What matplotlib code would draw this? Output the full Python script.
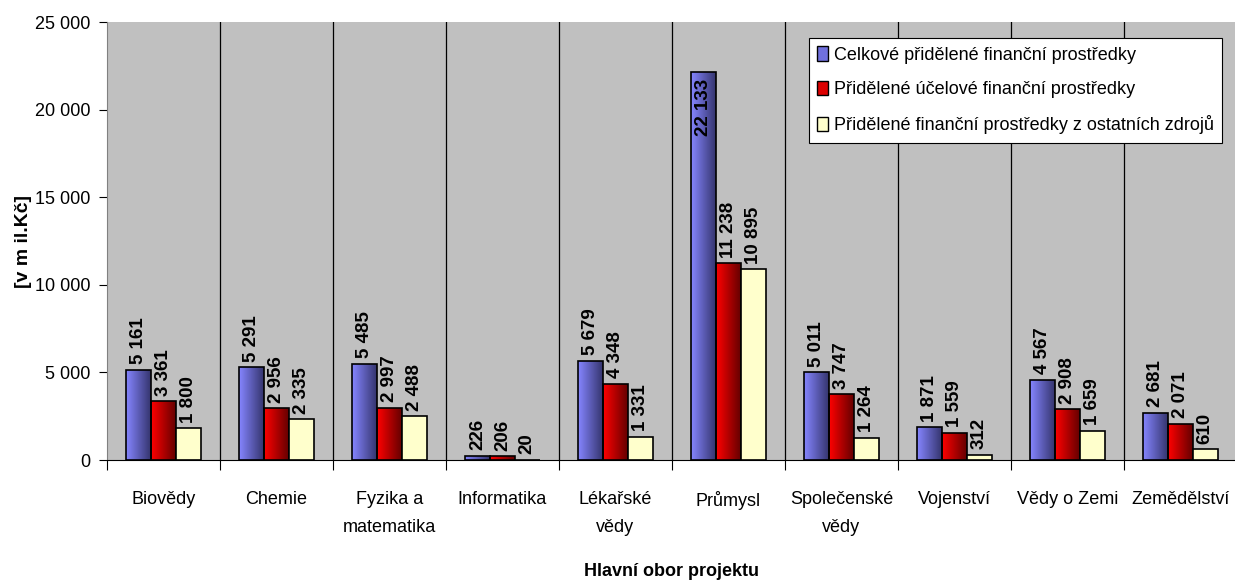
import matplotlib
matplotlib.use("Agg")
import matplotlib.pyplot as plt
import numpy as np
from matplotlib.colors import LinearSegmentedColormap
from matplotlib.patches import Patch

plt.rcParams['font.family'] = ['Liberation Sans', 'DejaVu Sans']

categories = ["Biovědy", "Chemie", "Fyzika a\nmatematika", "Informatika", "Lékařské\nvědy",
              "Průmysl", "Společenské\nvědy", "Vojenství", "Vědy o Zemi", "Zemědělství"]
celkove = [5161, 5291, 5485, 226, 5679, 22133, 5011, 1871, 4567, 2681]
ucelove = [3361, 2956, 2997, 206, 4348, 11238, 3747, 1559, 2908, 2071]
ostatni = [1800, 2335, 2488, 20, 1331, 10895, 1264, 312, 1659, 610]
series_names = ["Celkové přidělené finanční prostředky",
                "Přidělené účelové finanční prostředky",
                "Přidělené finanční prostředky z ostatních zdrojů"]
yticks = [0, 5000, 10000, 15000, 20000, 25000]

FS = 13

fig = plt.figure(figsize=(12.35, 5.82), dpi=100)
ax = fig.add_axes([0.0866, 0.2096, 0.915, 0.7525])
ax.set_facecolor('#c0c0c0')

n = len(categories)
x = np.arange(n)
w = 0.22

cmaps = [LinearSegmentedColormap.from_list('b', ['#8585ff', '#35356e']),
         LinearSegmentedColormap.from_list('r', ['#ff0000', '#650000']),
         None]
flat = ['#6666cc', '#cc0000', '#ffffcc']
grad = np.linspace(0, 1, 64).reshape(1, -1)

for si, vals in enumerate([celkove, ucelove, ostatni]):
    offs = (si - 1) * w
    bars = ax.bar(x + offs, vals, width=w, color=flat[si], edgecolor='black', linewidth=1.2,
                  zorder=3, label=series_names[si])
    for b, v in zip(bars, vals):
        if cmaps[si] is not None:
            b.set_facecolor('none')
            im = ax.imshow(grad, cmap=cmaps[si], aspect='auto',
                           extent=[b.get_x(), b.get_x() + b.get_width(), 0, v], zorder=2.9)
            im.set_clip_path(b)
        lab = f"{v:,}".replace(",", " ")
        cx = b.get_x() + b.get_width() / 2
        if v > 18000:
            ax.annotate(lab, (cx, v), xytext=(0, -5), textcoords='offset points',
                        rotation=90, ha='center', va='top', fontsize=13.5,
                        fontweight='bold', zorder=5)
        else:
            ax.annotate(lab, (cx, v), xytext=(0, 4), textcoords='offset points',
                        rotation=90, ha='center', va='bottom', fontsize=13.5,
                        fontweight='bold', zorder=5)

ax.set_xlim(-0.5, n - 0.5)
ax.set_ylim(0, 25000)

for b in np.arange(0.5, n - 0.5, 1):
    ax.axvline(b, color='black', linewidth=0.9, zorder=1)
ax.set_xticks(np.arange(-0.5, n, 1))
ax.set_xticklabels([])
ax.set_xticks(x, minor=True)
ax.set_xticklabels(categories, minor=True, fontsize=FS, linespacing=1.85)
ax.tick_params(axis='x', which='major', length=7, direction='out')
ax.tick_params(axis='x', which='minor', length=0, pad=22)
ax.set_yticks(yticks)
ax.set_yticklabels([f"{t:,}".replace(",", " ") for t in yticks], fontsize=FS)
ax.tick_params(axis='y', length=6, direction='out', pad=6)

for s in ['top', 'right']:
    ax.spines[s].set_visible(False)
ax.spines['left'].set_color('#808080')
ax.spines['bottom'].set_color('black')

ax.set_ylabel("[v m il.Kč]", fontsize=14, fontweight='bold')
ax.yaxis.set_label_coords(-0.0664, 0.5)
fig.text(672 / 1235, 1 - 576 / 582, "Hlavní obor projektu", fontsize=FS,
         fontweight='bold', ha='center', va='baseline')

lh = [Patch(facecolor=c, edgecolor='black') for c in ['#7070dd', '#dd0000', '#ffffcc']]
leg = ax.legend(lh, series_names, loc='upper right', bbox_to_anchor=(0.9867, 0.9635),
                fontsize=FS, frameon=True, fancybox=False, edgecolor='black',
                handlelength=0.65, handleheight=0.85, handletextpad=0.3, borderpad=0.45,
                labelspacing=0.95, borderaxespad=0, framealpha=1)
leg.get_frame().set_linewidth(0.8)
leg.set_zorder(10)

fig.savefig("out.png", dpi=100)
